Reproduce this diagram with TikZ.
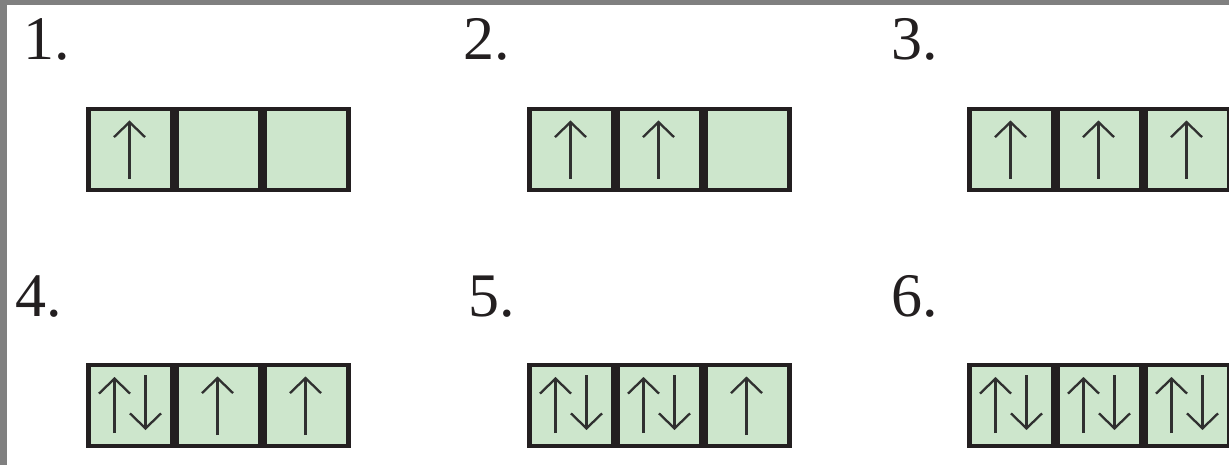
\documentclass[tikz,border=0pt]{standalone}
\usepackage{fontspec}
\setmainfont{Liberation Serif}
\usetikzlibrary{arrows.meta}
\definecolor{cellgreen}{HTML}{CDE6CC}
\definecolor{framedark}{HTML}{231F20}
\definecolor{bargray}{HTML}{808080}
\definecolor{arrowdark}{HTML}{303030}
\begin{document}
\begin{tikzpicture}[x=1pt,y=-1pt,
  frame/.style={fill=framedark, draw=none, minimum width=265pt, minimum height=85pt, inner sep=0pt, outer sep=0pt, anchor=north west},
  cell/.style={fill=cellgreen, draw=none, minimum width=79pt, minimum height=77pt, inner sep=0pt, outer sep=0pt, anchor=north west},
  lab/.style={font=\fontsize{62}{62}\selectfont, inner sep=0pt, anchor=base west, text=framedark},
  spin/.style={draw=arrowdark, line width=2.3pt, -{Straight Barb[length=15pt,width=31pt]}}]
\useasboundingbox (0,0) rectangle (1229,465);
\fill[bargray] (0,0) rectangle (1229,5);
\fill[bargray] (0,0) rectangle (7,465);
% labels
\node[lab] (l1) at (23,60) {1.};
\node[lab] (l2) at (463,60) {2.};
\node[lab] (l3) at (891,60) {3.};
\node[lab] (l4) at (15,316) {4.};
\node[lab] (l5) at (468,316) {5.};
\node[lab] (l6) at (891,316) {6.};
% frames and cells
\foreach \g/\gx/\gy in {1/86/107,2/527/107,3/967/107,4/86/363,5/527/363,6/967/363} {
  \node[frame] (g\g) at (\gx,\gy) {};
  \foreach \c in {1,2,3} {
    \node[cell] (g\g c\c) at ({\gx+5+88*(\c-1)},{\gy+4}) {};
  }
}
% single up arrows
\foreach \n in {g1c1,g2c1,g2c2,g3c1,g3c2,g3c3,g4c2,g4c3,g5c3} {
  \draw[spin] ([xshift=-1pt,yshift=9pt]\n.south) -- ([xshift=-1pt,yshift=-9.5pt]\n.north);
}
% paired arrows
\foreach \n in {g4c1,g5c1,g5c2,g6c1,g6c2,g6c3} {
  \draw[spin] ([xshift=-16pt,yshift=11pt]\n.south) -- ([xshift=-16pt,yshift=-10pt]\n.north);
  \draw[spin] ([xshift=15pt,yshift=-8pt]\n.north) -- ([xshift=15pt,yshift=14pt]\n.south);
}
\end{tikzpicture}
\end{document}
